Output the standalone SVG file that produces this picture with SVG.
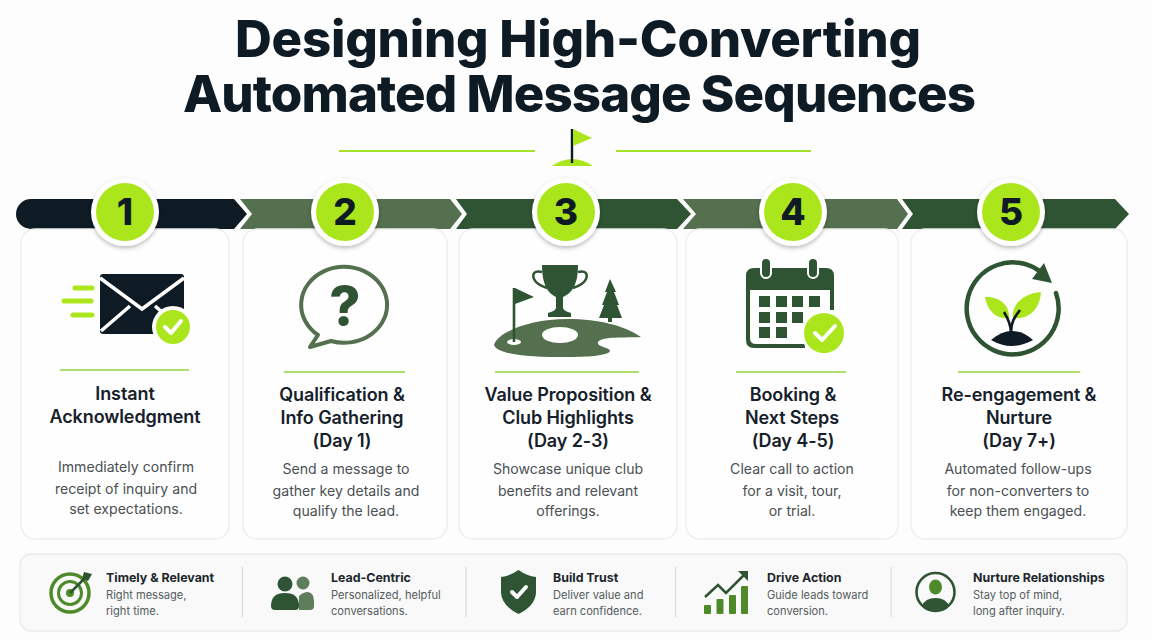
<svg xmlns="http://www.w3.org/2000/svg" width="1152" height="640" viewBox="0 0 1152 640">
<style>
text{font-family:Inter,"Liberation Sans",sans-serif}
.title{font-size:51px;font-weight:800;fill:#0e1a24}
.ct{font-size:18px;font-weight:600;fill:#16202a;text-anchor:middle;letter-spacing:-.1px}
.cd{font-size:14.1px;fill:#4a5054;text-anchor:middle}
.num{font-size:37px;font-weight:800;fill:#0e1a24;text-anchor:middle}
.bt{font-size:12.4px;font-weight:700;fill:#1c262c}
.bd{font-size:11.1px;fill:#555c60}
.card{fill:#fefefe;stroke:#ebedeb;stroke-width:1.3}
.rule{stroke:#93d43a;stroke-width:1.6}
.lime{fill:#abe61c}
.navy{fill:#0e1a24}
.dk{fill:#2f5433}
.md{fill:#54704f}
.ring{fill:#fff;filter:url(#sh)}
.div{stroke:#d9dcd9;stroke-width:1.2}
.tick{fill:none;stroke:#fff;stroke-width:4;stroke-linecap:round;stroke-linejoin:round}
</style>
<defs>
<filter id="sh" x="-30%" y="-30%" width="160%" height="160%"><feDropShadow dx="0" dy="2" stdDeviation="2" flood-color="#000" flood-opacity=".28"/></filter>
</defs>
<rect width="1152" height="640" fill="#fdfdfd"/>
<g id="header">
<text class="title" x="235" y="57" textLength="686" lengthAdjust="spacing">Designing High-Converting</text>
<text class="title" x="183" y="112" textLength="793" lengthAdjust="spacing">Automated Message Sequences</text>
<path d="M339 151H535M616 151H811" stroke="#a6e22a" stroke-width="1.8"/>
<path d="M552 166Q572 152 593 166Z" class="lime"/>
<path d="M572 129V163" stroke="#0e1a24" stroke-width="2.4"/>
<path d="M573 129L592 138L573 146Z" class="lime"/>
</g>
<g id="connectors">
<path class="navy" d="M31 199H234L247 214L234 229H31A15 15 0 0 1 31 199Z"/>
<path class="md" d="M240 199H450L462 214L450 229H240L252 214Z"/>
<path class="dk" d="M456 199H677L691 214L677 229H456L467 214Z"/>
<path class="md" d="M683 199H897L908 214L897 229H683L696 214Z"/>
<path class="dk" d="M902 199H1115L1129 214L1115 229H902L913 214Z"/>
</g>
<g id="step1">
<rect class="card" x="21" y="229" width="208" height="310" rx="14"/>
<circle class="ring" cx="125" cy="212" r="34"/><circle class="lime" cx="125" cy="212" r="29"/>
<text class="num" x="125" y="225">1</text>
<path d="M75 288H92M64 301H91M73 315H92" stroke="#abe61c" stroke-width="5" stroke-linecap="round"/>
<rect class="navy" x="100" y="274" width="84" height="60" rx="3"/>
<path d="M100 278L142 309L184 278M101 331L130 306M184 331L155 306" fill="none" stroke="#fff" stroke-width="3.6"/>
<circle cx="173" cy="327" r="21" fill="#fff"/><circle class="lime" cx="173" cy="327" r="17"/>
<path class="tick" d="M165 327L171 333L181 321"/>
<path class="rule" d="M60 370H189"/>
<text class="ct" x="125" y="400">Instant</text>
<text class="ct" x="125" y="423">Acknowledgment</text>
<text class="cd" x="126" y="472">Immediately confirm</text>
<text class="cd" x="126" y="494">receipt of inquiry and</text>
<text class="cd" x="126" y="514">set expectations.</text>
</g>
<g id="step2">
<rect class="card" x="243" y="229" width="204" height="310" rx="14"/>
<circle class="ring" cx="345" cy="212" r="34"/><circle class="lime" cx="345" cy="212" r="29"/>
<text class="num" x="345" y="225">2</text>
<path d="M318 335A43 38 0 1 1 331 341L310 347Z" fill="none" stroke="#54704f" stroke-width="4" stroke-linejoin="round"/>
<text x="345" y="325" font-size="54" font-weight="800" fill="#2f5433" text-anchor="middle">?</text>
<path class="rule" d="M284 372H405"/>
<text class="ct" x="342" y="401">Qualification &amp;</text>
<text class="ct" x="342" y="424">Info Gathering</text>
<text class="ct" x="342" y="447">(Day 1)</text>
<text class="cd" x="346" y="474">Send a message to</text>
<text class="cd" x="346" y="496">gather key details and</text>
<text class="cd" x="346" y="516">qualify the lead.</text>
</g>
<g id="step3">
<rect class="card" x="459" y="229" width="218" height="310" rx="14"/>
<circle class="ring" cx="566" cy="212" r="34"/><circle class="lime" cx="566" cy="212" r="29"/>
<text class="num" x="566" y="225">3</text>
<path class="dk" d="M542 265H578C578 285 572 293 563 297V308C564 311 568 312 571 313V317H548V313C551 312 555 311 556 308V297C548 293 542 285 542 265Z"/>
<path d="M542 272C534 270 532 274 534 279C536 284 541 286 547 288M578 272C586 270 588 274 586 279C584 284 579 286 573 288" fill="none" stroke="#2f5433" stroke-width="2.4"/>
<path class="dk" d="M610 279L616 292H614L619 305H617L622 318H612V322H608V318H599L604 305H602L607 292H605Z"/>
<path class="md" d="M494 345C498 332 530 319 567 319C600 319 625 326 641 337C625 338 602 336 598 342C596 347 610 347 610 351C608 356 585 357 567 357C530 357 498 355 494 345Z"/>
<ellipse cx="560" cy="335" rx="18" ry="8" fill="#fff"/>
<ellipse cx="514" cy="342" rx="7" ry="3" fill="#fff"/>
<path d="M514 288V342" stroke="#2f5433" stroke-width="2.6"/>
<path class="dk" d="M515 288L534 297L515 304Z"/>
<path class="rule" d="M495 372H639"/>
<text class="ct" x="568" y="401">Value Proposition &amp;</text>
<text class="ct" x="568" y="424">Club Highlights</text>
<text class="ct" x="568" y="447">(Day 2-3)</text>
<text class="cd" x="568" y="474">Showcase unique club</text>
<text class="cd" x="568" y="496">benefits and relevant</text>
<text class="cd" x="568" y="516">offerings.</text>
</g>
<g id="step4">
<rect class="card" x="686" y="229" width="212" height="310" rx="14"/>
<circle class="ring" cx="793" cy="212" r="34"/><circle class="lime" cx="793" cy="212" r="29"/>
<text class="num" x="793" y="225">4</text>
<path class="dk" d="M746 276Q746 268 754 268H826Q834 268 834 276V310H830V290H750V338Q750 344 756 344H805V348H754Q746 348 746 340Z"/>
<rect x="761" y="258" width="10" height="20" rx="5" class="dk" stroke="#fff" stroke-width="2"/>
<rect x="808" y="258" width="10" height="20" rx="5" class="dk" stroke="#fff" stroke-width="2"/>
<g class="dk"><rect x="759" y="296" width="11" height="11"/><rect x="776" y="296" width="11" height="11"/><rect x="792" y="296" width="11" height="11"/><rect x="809" y="296" width="11" height="11"/><rect x="759" y="312" width="11" height="11"/><rect x="776" y="312" width="11" height="11"/><rect x="792" y="312" width="11" height="11"/><rect x="759" y="327" width="11" height="11"/><rect x="776" y="327" width="11" height="11"/></g>
<circle cx="824" cy="333" r="23" fill="#fff"/><circle class="lime" cx="824" cy="333" r="20"/>
<path class="tick" d="M815 333L822 340L835 326"/>
<path class="rule" d="M736 372H846"/>
<text class="ct" x="793" y="401">Booking &amp;</text>
<text class="ct" x="792" y="424">Next Steps</text>
<text class="ct" x="793" y="447">(Day 4-5)</text>
<text class="cd" x="792" y="474">Clear call to action</text>
<text class="cd" x="792" y="496">for a visit, tour,</text>
<text class="cd" x="792" y="516">or trial.</text>
</g>
<g id="step5">
<rect class="card" x="911" y="229" width="216" height="310" rx="14"/>
<circle class="ring" cx="1011" cy="212" r="34"/><circle class="lime" cx="1011" cy="212" r="29"/>
<text class="num" x="1011" y="225">5</text>
<path d="M1056 293A46 46 0 1 1 1038 270" fill="none" stroke="#2f5433" stroke-width="4.5" stroke-linecap="round"/>
<path class="dk" d="M1044 263L1052 283L1032 279Z"/>
<path class="lime" d="M985 297C1000 296 1010 306 1009 318C996 320 987 310 985 297Z"/>
<path class="lime" d="M1041 292C1025 293 1011 304 1013 318C1030 320 1040 308 1041 292Z"/>
<path d="M1011 333C1011 325 1009 320 1004 312M1011 333C1011 322 1014 318 1020 310" fill="none" stroke="#0e1a24" stroke-width="2.6"/>
<path class="navy" d="M991 340Q1012 322 1033 340Q1012 352 991 340Z"/>
<path class="rule" d="M958 372H1080"/>
<text class="ct" x="1019" y="401">Re-engagement &amp;</text>
<text class="ct" x="1019" y="424">Nurture</text>
<text class="ct" x="1019" y="447">(Day 7+)</text>
<text class="cd" x="1018" y="474">Automated follow-ups</text>
<text class="cd" x="1018" y="496">for non-converters to</text>
<text class="cd" x="1018" y="516">keep them engaged.</text>
</g>
<g id="benefits">
<rect x="20" y="554" width="1107" height="77" rx="11" fill="#f8f9f8" stroke="#e9ebe9" stroke-width="1.3"/>
<path class="div" d="M242.500 567V617M466 567V617M675.500 567V617M891 567V617"/>
<g id="benefit1">
<circle cx="70" cy="593" r="19" fill="none" stroke="#4f8a2a" stroke-width="3.500"/>
<circle cx="70" cy="593" r="11.500" fill="none" stroke="#4f8a2a" stroke-width="3"/>
<circle cx="70" cy="593" r="4" fill="#4f8a2a"/>
<path d="M70 593L88 575" stroke="#2f5433" stroke-width="2.500"/>
<path d="M84 572L92 574L88 581L82 579Z" fill="#2f5433"/>
<text class="bt" x="106" y="582">Timely &amp; Relevant</text>
<text class="bd" x="106" y="599">Right message,</text>
<text class="bd" x="106" y="615">right time.</text>
</g>
<g id="benefit2">
<circle cx="303" cy="583" r="6.500" fill="#5f7d5a"/>
<path d="M299 610V596Q303 592 308 592Q314 593 314 601V606Q314 610 310 610Z" fill="#5f7d5a"/>
<circle cx="285" cy="584" r="7.500" fill="#2f5433"/>
<path d="M271 606Q271 593 285 593Q299 593 299 606Q299 610 295 610H275Q271 610 271 606Z" fill="#2f5433"/>
<text class="bt" x="331" y="582">Lead-Centric</text>
<text class="bd" x="331" y="599">Personalized, helpful</text>
<text class="bd" x="331" y="615">conversations.</text>
</g>
<g id="benefit3">
<path class="dk" d="M518.500 570Q527 576 536 577V593Q535 606 518.500 614Q502 606 501 593V577Q510 576 518.500 570Z"/>
<path class="tick" d="M512 592L517 597L526 587"/>
<text class="bt" x="553" y="582">Build Trust</text>
<text class="bd" x="553" y="599">Deliver value and</text>
<text class="bd" x="553" y="615">earn confidence.</text>
</g>
<g id="benefit4">
<g fill="#4f8a2a"><rect x="704" y="605" width="7" height="9" rx="1"/><rect x="716.500" y="599" width="7" height="15" rx="1"/><rect x="729" y="595" width="7" height="19" rx="1"/><rect x="741" y="586" width="7" height="28" rx="1"/></g>
<path d="M705 597L718 585L726 593L746 573" fill="none" stroke="#2f5433" stroke-width="2.500"/>
<path d="M738 571H748V581Z" fill="#2f5433"/>
<text class="bt" x="767" y="582">Drive Action</text>
<text class="bd" x="767" y="599">Guide leads toward</text>
<text class="bd" x="767" y="615">conversion.</text>
</g>
<g id="benefit5">
<circle cx="935.500" cy="592" r="19" fill="none" stroke="#2f5433" stroke-width="2.600"/>
<ellipse cx="935.500" cy="587" rx="6.500" ry="7.500" fill="#4f8a2a"/>
<path d="M922 606Q925 598 935.500 598Q946 598 949 606Q943 610 935.500 610Q928 610 922 606Z" fill="#2f5433"/>
<text class="bt" x="973" y="582">Nurture Relationships</text>
<text class="bd" x="973" y="599">Stay top of mind,</text>
<text class="bd" x="973" y="615">long after inquiry.</text>
</g>
</g>
</svg>
